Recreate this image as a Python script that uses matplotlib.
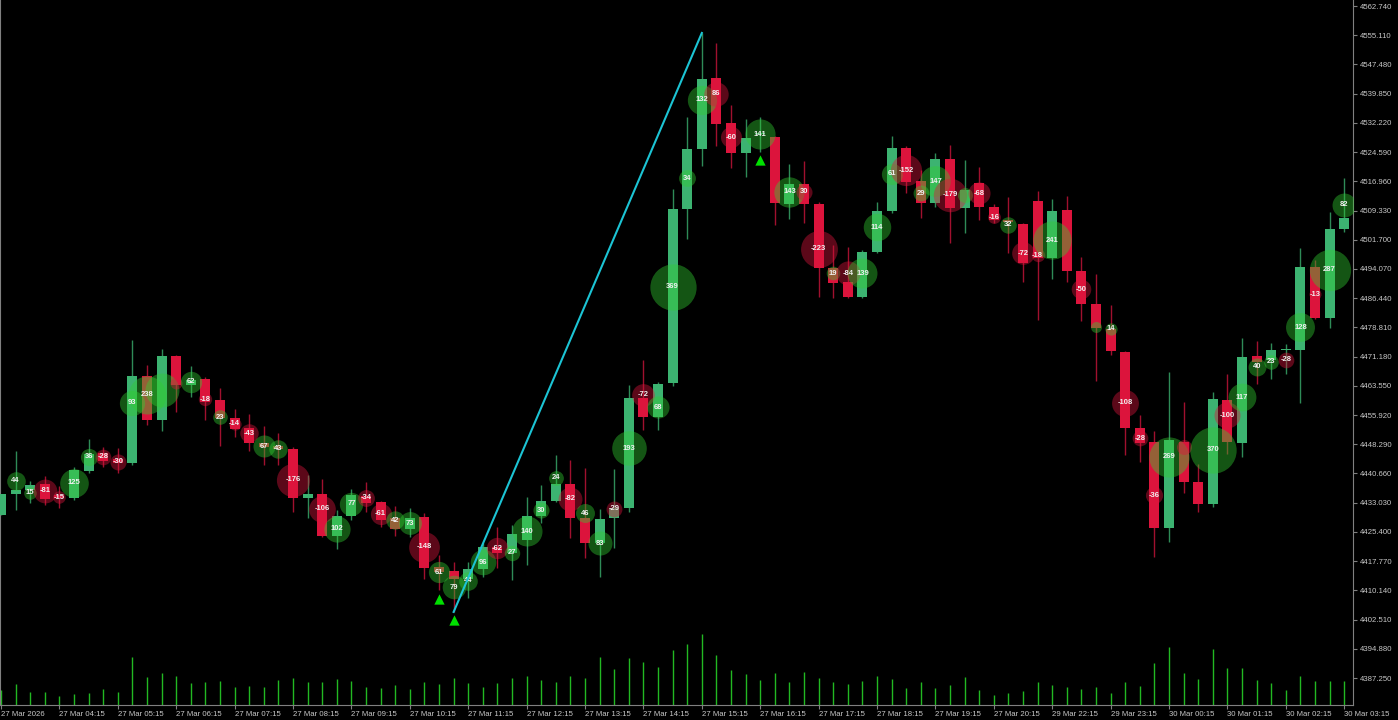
import numpy as np
import matplotlib.pyplot as plt

# 15 min candles, 27 Mar 03:15 -> 30 Mar 03:15
opens = [4429.8, 4435.3, 4436.4, 4437.9, 4435.0, 4434.3, 4441.3, 4446.0, 4444.4, 4443.4,
         4466.1, 4454.6, 4471.3, 4463.8, 4465.3, 4459.9, 4455.2, 4452.5, 4448.6, 4447.8,
         4447.1, 4434.3, 4435.3, 4424.3, 4429.6, 4434.8, 4433.2, 4429.0, 4426.2, 4429.3,
         4416.2, 4415.2, 4413.1, 4415.7, 4421.5, 4419.9, 4423.3, 4429.6, 4433.5, 4437.9,
         4429.0, 4422.5, 4429.0, 4431.7, 4460.4, 4455.4, 4464.3, 4509.7, 4525.4, 4543.9,
         4532.2, 4524.4, 4529.3, 4528.5, 4511.0, 4516.3, 4511.0, 4494.3, 4490.7, 4486.8,
         4498.5, 4509.2, 4525.7, 4517.0, 4511.3, 4522.8, 4510.0, 4516.5, 4510.3, 4506.9,
         4505.8, 4511.8, 4496.9, 4509.5, 4493.5, 4484.9, 4478.4, 4472.4, 4452.5, 4448.9,
         4426.4, 4448.9, 4438.4, 4432.7, 4459.9, 4448.6, 4471.3, 4470.3, 4472.8, 4472.9,
         4494.6, 4481.3, 4504.5]
highs = [4435.3, 4446.5, 4438.7, 4440.0, 4437.4, 4442.4, 4449.7, 4447.6, 4447.3, 4475.5,
         4469.0, 4473.2, 4471.5, 4468.7, 4465.9, 4463.0, 4457.5, 4456.2, 4453.1, 4451.2,
         4447.6, 4440.3, 4439.2, 4431.1, 4436.6, 4438.4, 4433.5, 4432.2, 4431.7, 4430.3,
         4419.4, 4417.5, 4417.5, 4422.5, 4426.7, 4427.2, 4434.5, 4437.7, 4445.5, 4444.2,
         4442.1, 4431.4, 4441.8, 4463.8, 4470.3, 4464.6, 4515.0, 4533.8, 4555.7, 4553.1,
         4536.9, 4533.2, 4533.8, 4528.8, 4521.5, 4522.3, 4511.6, 4500.3, 4499.8, 4499.0,
         4511.6, 4528.8, 4526.2, 4519.9, 4524.4, 4526.4, 4522.5, 4520.7, 4511.0, 4512.9,
         4506.1, 4514.4, 4512.3, 4513.1, 4497.2, 4492.8, 4484.7, 4472.6, 4455.9, 4451.8,
         4467.2, 4459.3, 4443.1, 4461.9, 4466.6, 4476.0, 4475.3, 4474.7, 4474.5, 4499.5,
         4496.4, 4509.0, 4517.8]
lows = [4429.8, 4431.1, 4433.0, 4432.4, 4431.7, 4433.7, 4440.8, 4442.4, 4440.8, 4442.9,
        4453.3, 4451.8, 4456.7, 4460.6, 4454.6, 4447.8, 4450.2, 4446.5, 4442.9, 4442.9,
        4430.6, 4429.0, 4424.0, 4420.9, 4428.5, 4430.6, 4426.7, 4424.3, 4424.1, 4413.1,
        4410.2, 4404.5, 4408.1, 4413.6, 4416.0, 4412.8, 4416.8, 4427.7, 4433.2, 4423.8,
        4418.6, 4413.6, 4421.2, 4430.6, 4452.0, 4452.0, 4463.5, 4501.9, 4521.0, 4526.2,
        4520.4, 4518.1, 4524.6, 4505.6, 4507.1, 4506.1, 4486.8, 4486.5, 4486.5, 4486.5,
        4498.2, 4508.7, 4513.9, 4507.4, 4510.3, 4500.9, 4503.5, 4506.9, 4506.1, 4498.2,
        4490.7, 4480.7, 4491.5, 4490.7, 4480.5, 4464.8, 4471.6, 4445.5, 4443.7, 4418.9,
        4422.8, 4435.6, 4430.6, 4431.9, 4445.8, 4445.0, 4464.0, 4465.3, 4466.6, 4459.1,
        4481.0, 4478.7, 4503.7]
closes = [4435.3, 4436.4, 4437.7, 4434.0, 4434.3, 4441.6, 4445.8, 4443.9, 4443.4, 4466.1,
          4454.6, 4471.3, 4463.8, 4465.1, 4459.3, 4455.2, 4452.3, 4448.6, 4447.6, 4447.1,
          4434.3, 4435.3, 4424.3, 4429.6, 4435.0, 4433.0, 4428.5, 4426.2, 4429.0, 4416.0,
          4414.9, 4413.1, 4415.7, 4421.5, 4419.9, 4424.9, 4429.6, 4433.5, 4437.9, 4429.0,
          4422.5, 4428.8, 4431.7, 4460.4, 4455.4, 4464.0, 4509.7, 4525.4, 4543.7, 4531.9,
          4524.4, 4528.3, 4529.4, 4511.3, 4516.3, 4511.0, 4494.3, 4490.4, 4486.8, 4498.5,
          4509.2, 4525.7, 4516.8, 4511.3, 4522.8, 4510.0, 4514.7, 4510.3, 4506.9, 4506.3,
          4495.6, 4496.9, 4509.2, 4493.5, 4484.9, 4478.7, 4472.7, 4452.5, 4448.6, 4426.4,
          4449.4, 4438.4, 4432.7, 4460.1, 4448.9, 4471.1, 4469.8, 4472.9, 4472.9, 4494.6,
          4481.3, 4504.5, 4507.4]
volumes = [1500, 2100, 1300, 1270, 900, 1070, 1170, 1600, 1300, 4800,
           2770, 3170, 2870, 2170, 2270, 2430, 1770, 1870, 1830, 2500,
           2670, 2330, 2270, 2600, 2370, 1770, 1670, 2000, 1600, 2330,
           2070, 2670, 2170, 1830, 2170, 2670, 2930, 2500, 2270, 2870,
           2670, 4770, 3570, 4670, 4270, 3770, 5500, 6100, 7100, 5000,
           3500, 3070, 2500, 3170, 2270, 3270, 2670, 2270, 2070, 2400,
           2930, 2600, 1700, 2270, 1670, 2000, 2770, 1470, 970, 1170,
           1370, 2270, 2000, 1770, 1600, 1770, 1170, 2270, 1870, 4170,
           5770, 3170, 2570, 5570, 3670, 3670, 2500, 2170, 1500, 2870,
           2430, 2430, 2430]

# delta bubbles (None = no bubble)
delta = [None, 44, 15, -81, -15, 125, 36, -28, -30, 93,
         238, 185, -13, 62, -18, 23, -14, -43, 67, 43,
         -176, None, -106, 102, 77, -34, -61, 42, 73, -148,
         61, 79, 44, 96, -62, 27, 140, 30, 24, -82,
         46, 83, -29, 193, -72, 68, 369, 34, 132, -86,
         -60, None, 141, None, 143, -30, -223, 19, -84, 139,
         114, 61, -152, 29, 147, -179, 25, -68, -16, 32,
         -72, -18, 241, None, -50, 10, 14, -108, -28, -36,
         269, -25, None, 370, -100, 117, 40, 23, -28, 128,
         -13, 287, 82]
delta_price = [None, 4438.7, 4435.6, 4436.1, 4434.5, 4438.2, 4445.0, 4445.0, 4443.7, 4459.1,
               4461.2, 4462.5, 4464.3, 4464.6, 4460.1, 4455.4, 4453.6, 4451.2, 4447.8, 4447.1,
               4439.0, None, 4431.4, 4426.2, 4432.7, 4434.3, 4430.1, 4428.5, 4427.7, 4421.5,
               4414.9, 4411.0, 4412.6, 4417.5, 4421.2, 4419.9, 4425.6, 4431.1, 4439.5, 4434.0,
               4430.3, 4422.5, 4431.4, 4447.3, 4461.2, 4458.0, 4489.4, 4517.8, 4538.2, 4539.8,
               4528.5, None, 4529.3, None, 4514.2, 4514.2, 4499.3, 4493.0, 4493.0, 4493.0,
               4505.0, 4518.9, 4519.9, 4513.9, 4517.0, 4513.4, 4513.4, 4513.9, 4507.6, 4505.6,
               4498.2, 4497.7, 4501.6, None, 4488.8, 4478.9, 4478.4, 4459.1, 4449.9, 4435.0,
               4445.0, 4447.6, None, 4446.8, 4455.9, 4460.6, 4468.5, 4469.8, 4470.3, 4478.9,
               4487.5, 4493.8, 4510.8]
hidden_labels = [11, 12, 66, 75, 81]
unsigned_labels = [49, 55]   # minus sign not shown on these

signals = [30, 31, 52]
trend_from, trend_to = 31, 48

price_ticks = [4387.250, 4394.880, 4402.510, 4410.140, 4417.770, 4425.400, 4433.030, 4440.660,
               4448.290, 4455.920, 4463.550, 4471.180, 4478.810, 4486.440, 4494.070, 4501.700,
               4509.330, 4516.960, 4524.590, 4532.220, 4539.850, 4547.480, 4555.110, 4562.740]
time_labels = ["27 Mar 2026", "27 Mar 04:15", "27 Mar 05:15", "27 Mar 06:15", "27 Mar 07:15",
               "27 Mar 08:15", "27 Mar 09:15", "27 Mar 10:15", "27 Mar 11:15", "27 Mar 12:15",
               "27 Mar 13:15", "27 Mar 14:15", "27 Mar 15:15", "27 Mar 16:15", "27 Mar 17:15",
               "27 Mar 18:15", "27 Mar 19:15", "27 Mar 20:15", "29 Mar 22:15", "29 Mar 23:15",
               "30 Mar 00:15", "30 Mar 01:15", "30 Mar 02:15", "30 Mar 03:15"]

o = np.array(opens); h = np.array(highs); l = np.array(lows); c = np.array(closes)
x = np.arange(len(o))
up = c >= o

fig = plt.figure(figsize=(13.98, 7.2), dpi=100, facecolor="black")
ax = fig.add_axes([0, 15 / 720, 1353 / 1398, 705 / 720])
ax2 = ax.twinx()
ax.set_zorder(2)
ax.patch.set_visible(False)

# volumes
ax2.vlines(x, 0, volumes, color="#22b822", lw=1)
ax2.set_ylim(0, 70500)
ax2.axis("off")

# candles
wick_col = np.where(up, "#2e8b57", "#a0102e")
body_col = np.where(up, "#3cb371", "#dc143c")
ax.vlines(x, l, h, colors=wick_col, lw=1, zorder=2)
ax.bar(x, np.maximum(np.abs(c - o), 0.3), bottom=np.minimum(o, c), width=0.68,
       color=body_col, linewidth=0, zorder=3)

# delta bubbles
for i, (v, p) in enumerate(zip(delta, delta_price)):
    if v is None:
        continue
    r = 2 + 1.1 * np.sqrt(abs(v))
    col = "#32cd32" if v > 0 else "#dc143c"
    ax.scatter(i, p, s=(2 * r * 0.72) ** 2, color=col, alpha=0.42, lw=0, zorder=4)
    if i not in hidden_labels:
        txt = str(abs(v)) if i in unsigned_labels else str(v)
        ax.text(i, p, txt, color="#f0f0f0", fontsize=5.5, fontweight="bold",
                family="Liberation Sans", ha="center", va="center", zorder=5)

# trend line and signals
ax.plot([trend_from, trend_to], [l[trend_from], h[trend_to]], color="#1cc4d4", lw=1.5, zorder=6)
ax.scatter(signals, l[signals] - 2.2, marker="^", color="#00e000", s=55, lw=0, zorder=6)

ax.set_xlim(-0.07, 92.6)
ax.set_ylim(4380.2, 4564.31)

for s in ["left", "right", "bottom"]:
    ax.spines[s].set_color("#808080")
ax.spines["top"].set_visible(False)

ax.yaxis.tick_right()
ax.set_yticks(price_ticks)
ax.set_yticklabels([f"{t:.3f}" for t in price_ticks])
ax.set_xticks(x[::4])
ax.set_xticklabels(time_labels)
ax.tick_params(axis="y", colors="#808080", labelcolor="#c8c8c8", labelsize=5.6, length=3, pad=2)
ax.tick_params(axis="x", colors="#808080", labelcolor="#c8c8c8", labelsize=5.6, length=3, pad=1)
for lbl in ax.get_xticklabels() + ax.get_yticklabels():
    lbl.set_family("Liberation Sans")
for lbl in ax.get_xticklabels():
    lbl.set_ha("left")

fig.savefig("out.png", dpi=100, facecolor="black")
